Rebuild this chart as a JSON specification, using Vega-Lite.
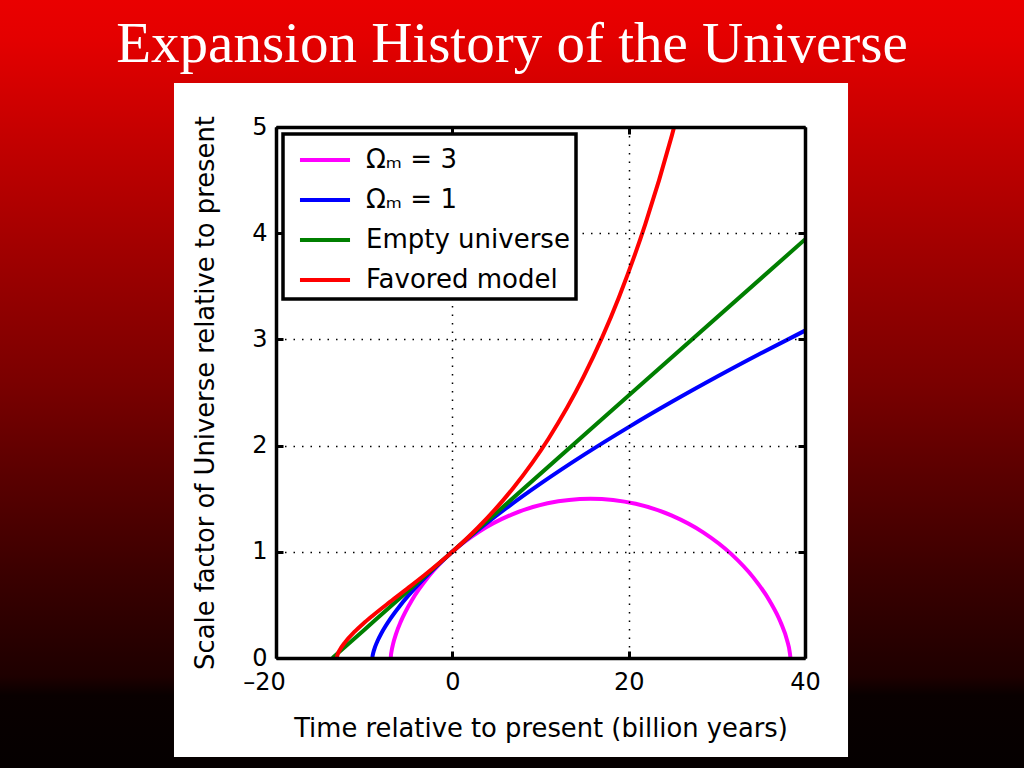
{
  "$schema": "https://vega.github.io/schema/vega-lite/v6.json",
  "width": 529,
  "height": 531,
  "autosize": {"type": "none"},
  "padding": {"left": 276, "top": 127, "right": 219, "bottom": 110},
  "background": "#000000",
  "config": {
    "view": {"stroke": null},
    "legend": {"strokeWidth": 3.5}
  },
  "resolve": {"axis": {"x": "independent", "y": "independent"}},
  "layer": [
    {
      "data": {"values": [{}]},
      "mark": {
        "type": "rect",
        "stroke": null,
        "fill": {
          "gradient": "linear",
          "x1": 0, "y1": 0, "x2": 0, "y2": 1,
          "stops": [
            {"offset": 0, "color": "#ea0000"},
            {"offset": 0.05, "color": "#e40000"},
            {"offset": 0.17, "color": "#c60000"},
            {"offset": 0.33, "color": "#a00000"},
            {"offset": 0.5, "color": "#7a0000"},
            {"offset": 0.62, "color": "#5a0000"},
            {"offset": 0.75, "color": "#3a0000"},
            {"offset": 0.88, "color": "#1e0000"},
            {"offset": 0.905, "color": "#090000"},
            {"offset": 1, "color": "#050000"}
          ]
        }
      },
      "encoding": {
        "x": {"datum": -52, "type": "quantitative", "scale": {"domain": [-20, 40], "nice": false, "zero": false}, "axis": null},
        "x2": {"datum": 66},
        "y": {"datum": -1.04, "type": "quantitative", "scale": {"domain": [0, 5], "nice": false, "zero": false}, "axis": null},
        "y2": {"datum": 6.2}
      }
    },
    {
      "data": {"values": [{"title": "Expansion History of the Universe"}]},
      "mark": {"type": "text", "font": "Liberation Serif", "fontSize": 57, "fontWeight": "normal", "color": "#ffffff", "align": "center", "baseline": "alphabetic"},
      "encoding": {
        "x": {"datum": 6.77, "type": "quantitative", "scale": {"domain": [-20, 40], "nice": false, "zero": false}, "axis": null},
        "y": {"datum": 5.612, "type": "quantitative", "scale": {"domain": [0, 5], "nice": false, "zero": false}, "axis": null},
        "text": {"field": "title"}
      }
    },
    {
      "data": {"values": [{}]},
      "mark": {"type": "rect", "fill": "#ffffff", "stroke": null},
      "encoding": {
        "x": {"datum": -31.57, "type": "quantitative", "scale": {"domain": [-20, 40], "nice": false, "zero": false},
          "axis": {"orient": "top", "values": [-20, 0, 20, 40], "labels": false, "title": null, "grid": false,
            "tickSize": -7, "tickWidth": 3, "tickColor": "#000000", "domainColor": "#000000", "domainWidth": 3.5, "zindex": 1}},
        "x2": {"datum": 44.88},
        "y": {"datum": -0.932, "type": "quantitative", "scale": {"domain": [0, 5], "nice": false, "zero": false},
          "axis": {"orient": "right", "values": [0, 1, 2, 3, 4, 5], "labels": false, "title": null, "grid": false,
            "tickSize": -7, "tickWidth": 3, "tickColor": "#000000", "domainColor": "#000000", "domainWidth": 3.5, "zindex": 1}},
        "y2": {"datum": 5.414}
      }
    },
    {
      "data": {
        "values": [
          {"model": "Ωₘ = 3", "t": -6.9804, "a": 0},
          {"model": "Ωₘ = 3", "t": -6.9708, "a": 0.01495},
          {"model": "Ωₘ = 3", "t": -6.9041, "a": 0.0592},
          {"model": "Ωₘ = 3", "t": -6.7254, "a": 0.131},
          {"model": "Ωₘ = 3", "t": -6.3844, "a": 0.2275},
          {"model": "Ωₘ = 3", "t": -5.837, "a": 0.3448},
          {"model": "Ωₘ = 3", "t": -4.5538, "a": 0.5494},
          {"model": "Ωₘ = 3", "t": -2.6499, "a": 0.7719},
          {"model": "Ωₘ = 3", "t": 0, "a": 1},
          {"model": "Ωₘ = 3", "t": 3.0558, "a": 1.1914},
          {"model": "Ωₘ = 3", "t": 6.7343, "a": 1.3509},
          {"model": "Ωₘ = 3", "t": 10.7985, "a": 1.4567},
          {"model": "Ωₘ = 3", "t": 15.6783, "a": 1.5},
          {"model": "Ωₘ = 3", "t": 20.7933, "a": 1.4523},
          {"model": "Ωₘ = 3", "t": 24.8401, "a": 1.3432},
          {"model": "Ωₘ = 3", "t": 28.4926, "a": 1.1811},
          {"model": "Ωₘ = 3", "t": 31.6179, "a": 0.9805},
          {"model": "Ωₘ = 3", "t": 34.1302, "a": 0.7593},
          {"model": "Ωₘ = 3", "t": 35.9983, "a": 0.5373},
          {"model": "Ωₘ = 3", "t": 37.2485, "a": 0.3342},
          {"model": "Ωₘ = 3", "t": 37.9625, "a": 0.1683},
          {"model": "Ωₘ = 3", "t": 38.2699, "a": 0.0544},
          {"model": "Ωₘ = 3", "t": 38.3296, "a": 0.0126},
          {"model": "Ωₘ = 3", "t": 38.3371, "a": 0},
          {"model": "Ωₘ = 1", "t": -9.0667, "a": 0},
          {"model": "Ωₘ = 1", "t": -9.05, "a": 0.015},
          {"model": "Ωₘ = 1", "t": -9.0, "a": 0.0378},
          {"model": "Ωₘ = 1", "t": -8.9, "a": 0.0697},
          {"model": "Ωₘ = 1", "t": -8.5, "a": 0.1575},
          {"model": "Ωₘ = 1", "t": -8, "a": 0.2401},
          {"model": "Ωₘ = 1", "t": -7, "a": 0.3732},
          {"model": "Ωₘ = 1", "t": -6, "a": 0.4855},
          {"model": "Ωₘ = 1", "t": -4, "a": 0.6785},
          {"model": "Ωₘ = 1", "t": -2, "a": 0.8469},
          {"model": "Ωₘ = 1", "t": 0, "a": 1},
          {"model": "Ωₘ = 1", "t": 3, "a": 1.2099},
          {"model": "Ωₘ = 1", "t": 6, "a": 1.403},
          {"model": "Ωₘ = 1", "t": 10, "a": 1.6414},
          {"model": "Ωₘ = 1", "t": 15, "a": 1.9171},
          {"model": "Ωₘ = 1", "t": 20, "a": 2.1742},
          {"model": "Ωₘ = 1", "t": 25, "a": 2.4169},
          {"model": "Ωₘ = 1", "t": 30, "a": 2.6479},
          {"model": "Ωₘ = 1", "t": 35, "a": 2.8693},
          {"model": "Ωₘ = 1", "t": 40, "a": 3.0825},
          {"model": "Empty universe", "t": -13.6, "a": 0},
          {"model": "Empty universe", "t": -10, "a": 0.2647},
          {"model": "Empty universe", "t": 0, "a": 1},
          {"model": "Empty universe", "t": 20, "a": 2.4706},
          {"model": "Empty universe", "t": 40, "a": 3.9412},
          {"model": "Favored model", "t": -13.112, "a": 0},
          {"model": "Favored model", "t": -13.012, "a": 0.0332},
          {"model": "Favored model", "t": -12.812, "a": 0.069},
          {"model": "Favored model", "t": -12.112, "a": 0.1541},
          {"model": "Favored model", "t": -11.112, "a": 0.2453},
          {"model": "Favored model", "t": -10.112, "a": 0.323},
          {"model": "Favored model", "t": -9.112, "a": 0.3938},
          {"model": "Favored model", "t": -7.112, "a": 0.5258},
          {"model": "Favored model", "t": -5.112, "a": 0.6536},
          {"model": "Favored model", "t": -3.112, "a": 0.7835},
          {"model": "Favored model", "t": 0, "a": 1},
          {"model": "Favored model", "t": 2.888, "a": 1.2263},
          {"model": "Favored model", "t": 6.888, "a": 1.5985},
          {"model": "Favored model", "t": 10.888, "a": 2.0625},
          {"model": "Favored model", "t": 14.888, "a": 2.6488},
          {"model": "Favored model", "t": 18.888, "a": 3.3947},
          {"model": "Favored model", "t": 21.888, "a": 4.0857},
          {"model": "Favored model", "t": 24.888, "a": 4.9163},
          {"model": "Favored model", "t": 25.888, "a": 5.2287}
        ]
      },
      "mark": {"type": "line", "strokeWidth": 4, "interpolate": "monotone", "clip": true},
      "encoding": {
        "x": {
          "field": "t", "type": "quantitative",
          "scale": {"domain": [-20, 40], "nice": false, "zero": false},
          "axis": {
            "orient": "bottom", "values": [-20, 0, 20, 40],
            "labelExpr": "datum.value < 0 ? '–' + abs(datum.value) : datum.label",
            "labelOffset": {"condition": {"test": "datum.value < 0", "value": -12}, "value": 0},
            "labelFlush": false,
            "labelFont": "DejaVu Sans", "labelFontSize": 24, "labelColor": "#000000", "labelPadding": 19,
            "title": "Time relative to present (billion years)",
            "titleFont": "DejaVu Sans", "titleFontSize": 25.8, "titleFontWeight": "normal", "titleColor": "#000000", "titlePadding": 22,
            "tickSize": -7, "tickWidth": 3, "tickColor": "#000000",
            "domainColor": "#000000", "domainWidth": 3.5,
            "grid": true, "gridColor": "#000000", "gridDash": [1.5, 7], "gridWidth": 1.5, "gridOpacity": 1,
            "zindex": 1
          }
        },
        "y": {
          "field": "a", "type": "quantitative",
          "scale": {"domain": [0, 5], "nice": false, "zero": false},
          "axis": {
            "orient": "left", "values": [0, 1, 2, 3, 4, 5],
            "labelFlush": false,
            "labelFont": "DejaVu Sans", "labelFontSize": 24, "labelColor": "#000000", "labelPadding": 16,
            "title": "Scale factor of Universe relative to present",
            "titleFont": "DejaVu Sans", "titleFontSize": 25.8, "titleFontWeight": "normal", "titleColor": "#000000", "titlePadding": 33,
            "tickSize": -7, "tickWidth": 3, "tickColor": "#000000",
            "domainColor": "#000000", "domainWidth": 3.5,
            "grid": true, "gridColor": "#000000", "gridDash": [1.5, 7], "gridWidth": 1.5, "gridOpacity": 1,
            "zindex": 1
          }
        },
        "color": {
          "field": "model", "type": "nominal",
          "scale": {
            "domain": ["Ωₘ = 3", "Ωₘ = 1", "Empty universe", "Favored model"],
            "range": ["#ff00ff", "#0000ff", "#007f00", "#ff0000"]
          },
          "legend": {
            "orient": "none", "legendX": 7, "legendY": 7, "title": null,
            "fillColor": "#ffffff", "strokeColor": "#000000", "padding": 6, "rowPadding": 7,
            "symbolType": "M-1.39,0L1.39,0", "symbolSize": 1296, "symbolStrokeWidth": 4, "symbolOffset": 16,
            "labelOffset": 21, "labelLimit": 400, "labelFont": "DejaVu Sans", "labelFontSize": 26, "labelColor": "#000000",
            "zindex": 2
          }
        }
      }
    }
  ]
}
